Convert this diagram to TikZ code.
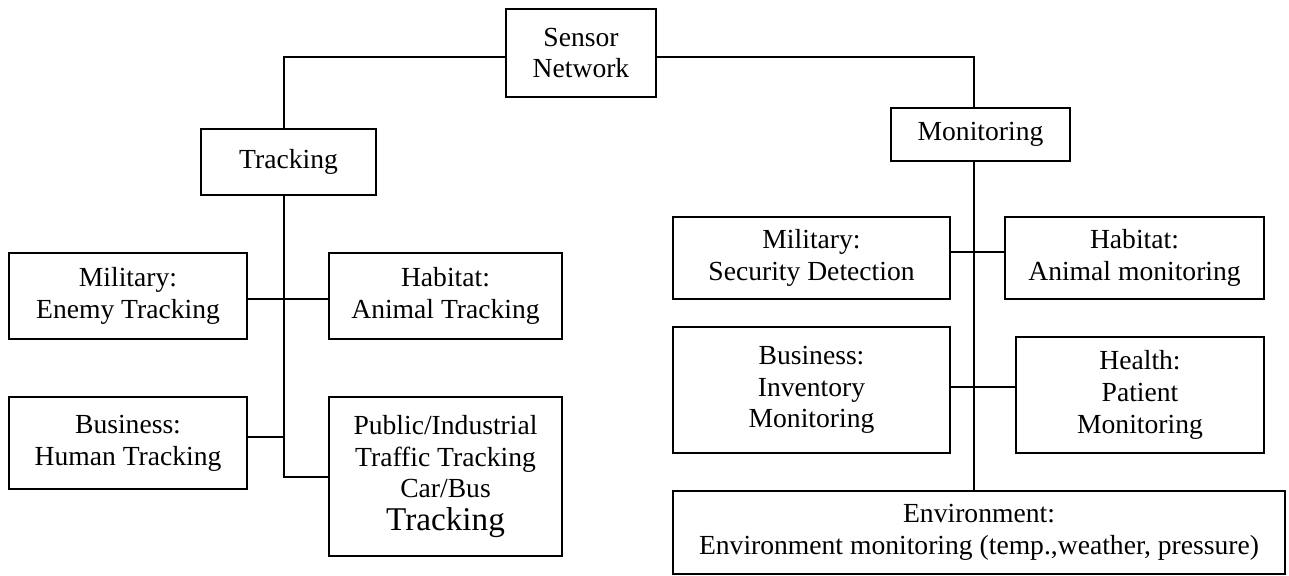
\documentclass[tikz,border=0pt]{standalone}
\usepackage{fontspec}
\setmainfont{Liberation Serif}
\usetikzlibrary{calc}
\begin{document}
\begin{tikzpicture}[x=0.5pt,y=-0.5pt,
  box/.style={draw, line width=1pt, inner sep=0pt, align=center,
    font=\fontsize{13.8}{15.85}\selectfont},
  link/.style={draw, line width=0.9pt}]
\useasboundingbox[fill=white] (0,0) rectangle (1289,575);
% top
\node[box, minimum width=75pt, minimum height=44pt] (sensor) at (581,53) {Sensor\\Network};
\node[box, minimum width=87.5pt, minimum height=33pt] (tracking) at (288.5,162) {Tracking};
\node[box, minimum width=89.5pt, minimum height=26.5pt] (monitoring) at (980.5,134.5) {Monitoring};
% tracking side
\node[box, minimum width=119pt, minimum height=43pt] (milT) at (128,296) {Military:\\Enemy Tracking};
\node[box, minimum width=116.5pt, minimum height=43pt] (habT) at (445.5,296) {Habitat:\\Animal Tracking};
\node[box, minimum width=119pt, minimum height=46pt] (busT) at (128,443) {Business:\\Human Tracking};
\node[box, minimum width=116.5pt, minimum height=79.5pt] (pubT) at (445.5,476.5)
  {Public/Industrial\\Traffic Tracking\\Car/Bus\\[0.6pt]{\fontsize{16.6}{19}\selectfont Tracking}};
% monitoring side
\node[box, minimum width=138.5pt, minimum height=41pt] (milM) at (811.5,258) {Military:\\Security Detection};
\node[box, minimum width=129.5pt, minimum height=41pt] (habM) at (1134.5,258) {Habitat:\\Animal monitoring};
\node[box, minimum width=138.5pt, minimum height=63pt] (busM) at (811.5,390) {Business:\\Inventory\\Monitoring};
\node[box, minimum width=124pt, minimum height=58pt] (heaM) at (1140,395) {Health:\\Patient\\Monitoring};
\node[box, minimum width=306pt, minimum height=41.5pt] (env) at (979,532.5)
  {Environment:\\Environment monitoring (temp.,weather, pressure)};
% junction coordinates
\coordinate (top) at (0,57);
\coordinate (tx) at (284,0);
\coordinate (mx) at (974,0);
\coordinate (j1) at (0,299);
\coordinate (j2) at (0,437);
\coordinate (j3) at (0,477);
\coordinate (j4) at (0,252);
\coordinate (j5) at (0,387);
% connectors
\draw[link] (sensor.west |- top) -| (tracking.north -| tx);
\draw[link] (sensor.east |- top) -| (monitoring.north -| mx);
\draw[link] (tracking.south -| tx) |- (pubT.west |- j3);
\draw[link] (milT.east |- j1) -- (habT.west |- j1);
\draw[link] (busT.east |- j2) -- (tx |- j2);
\draw[link] (monitoring.south -| mx) -- (env.north -| mx);
\draw[link] (milM.east |- j4) -- (habM.west |- j4);
\draw[link] (busM.east |- j5) -- (heaM.west |- j5);
\end{tikzpicture}
\end{document}
